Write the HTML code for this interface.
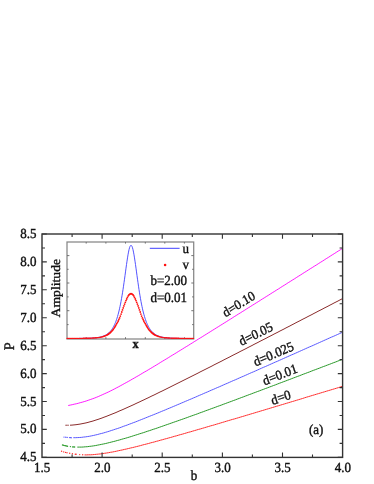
<!DOCTYPE html>
<html><head><meta charset="utf-8"><title>figure</title>
<style>html,body{margin:0;padding:0;background:#fff}body{width:374px;height:484px;overflow:hidden}svg{display:block;will-change:transform}text{stroke:#111;stroke-width:0.36px;text-rendering:geometricPrecision}</style>
</head><body>
<svg width="374" height="484" viewBox="0 0 374 484">
<rect width="374" height="484" fill="#fff"/>
<g font-family="'Liberation Serif', serif" font-size="13.0" fill="#111">
<path d="M68.2 405.5 L70.2 405.1 L72.2 404.7 L74.2 404.2 L76.2 403.8 L78.2 403.3 L80.2 402.7 L82.2 402.2 L84.2 401.6 L86.2 401.0 L88.2 400.3 L90.2 399.6 L92.2 398.9 L94.2 398.2 L96.2 397.4 L98.2 396.6 L100.2 395.7 L102.2 394.8 L104.2 393.9 L106.2 393.0 L108.2 392.1 L110.2 391.1 L112.2 390.1 L114.2 389.1 L116.2 388.0 L118.2 387.0 L120.2 385.9 L122.2 384.8 L124.2 383.7 L126.2 382.6 L128.2 381.5 L130.2 380.4 L132.2 379.2 L134.2 378.1 L136.2 376.9 L138.2 375.8 L140.2 374.6 L142.2 373.4 L144.2 372.2 L146.2 371.1 L148.2 369.9 L150.2 368.7 L152.2 367.5 L154.2 366.3 L156.2 365.1 L158.2 363.9 L160.2 362.6 L162.2 361.4 L164.2 360.2 L166.2 359.0 L168.2 357.8 L170.2 356.5 L172.2 355.3 L174.2 354.1 L176.2 352.9 L178.2 351.6 L180.2 350.4 L182.2 349.2 L184.2 347.9 L186.2 346.7 L188.2 345.5 L190.2 344.2 L192.2 343.0 L194.2 341.7 L196.2 340.5 L198.2 339.2 L200.2 338.0 L202.2 336.8 L204.2 335.5 L206.2 334.3 L208.2 333.0 L210.2 331.8 L212.2 330.5 L214.2 329.3 L216.2 328.0 L218.2 326.8 L220.2 325.5 L222.2 324.3 L224.2 323.0 L226.2 321.8 L228.2 320.5 L230.2 319.3 L232.2 318.0 L234.2 316.7 L236.2 315.5 L238.2 314.2 L240.2 313.0 L242.2 311.7 L244.2 310.5 L246.2 309.2 L248.2 307.9 L250.2 306.7 L252.2 305.4 L254.2 304.2 L256.2 302.9 L258.2 301.7 L260.2 300.4 L262.2 299.1 L264.2 297.9 L266.2 296.6 L268.2 295.4 L270.2 294.1 L272.2 292.8 L274.2 291.6 L276.2 290.3 L278.2 289.1 L280.2 287.8 L282.2 286.5 L284.2 285.3 L286.2 284.0 L288.2 282.7 L290.2 281.5 L292.2 280.2 L294.2 279.0 L296.2 277.7 L298.2 276.4 L300.2 275.2 L302.2 273.9 L304.2 272.6 L306.2 271.4 L308.2 270.1 L310.2 268.8 L312.2 267.6 L314.2 266.3 L316.2 265.1 L318.2 263.8 L320.2 262.5 L322.2 261.3 L324.2 260.0 L326.2 258.7 L328.2 257.5 L330.2 256.2 L332.2 254.9 L334.2 253.7 L336.2 252.4 L338.2 251.1 L340.2 249.9 L342.2 248.6 L343.0 248.1" fill="none" stroke="#ff1cff" stroke-width="1"/>
<circle cx="66.1" cy="425.3" r="0.7" fill="#8a2b2b"/>
<circle cx="68.0" cy="425.3" r="0.7" fill="#8a2b2b"/>
<path d="M70.0 425.2 L72.0 425.1 L74.0 424.9 L76.0 424.7 L78.0 424.4 L80.0 424.1 L82.0 423.7 L84.0 423.3 L86.0 422.9 L88.0 422.4 L90.0 421.8 L92.0 421.3 L94.0 420.7 L96.0 420.0 L98.0 419.4 L100.0 418.7 L102.0 418.0 L104.0 417.2 L106.0 416.5 L108.0 415.7 L110.0 414.9 L112.0 414.1 L114.0 413.3 L116.0 412.5 L118.0 411.6 L120.0 410.7 L122.0 409.9 L124.0 409.0 L126.0 408.1 L128.0 407.2 L130.0 406.3 L132.0 405.4 L134.0 404.5 L136.0 403.5 L138.0 402.6 L140.0 401.7 L142.0 400.7 L144.0 399.8 L146.0 398.8 L148.0 397.9 L150.0 396.9 L152.0 395.9 L154.0 395.0 L156.0 394.0 L158.0 393.0 L160.0 392.0 L162.0 391.1 L164.0 390.1 L166.0 389.1 L168.0 388.1 L170.0 387.1 L172.0 386.1 L174.0 385.1 L176.0 384.1 L178.0 383.1 L180.0 382.1 L182.0 381.1 L184.0 380.1 L186.0 379.1 L188.0 378.1 L190.0 377.1 L192.0 376.1 L194.0 375.1 L196.0 374.1 L198.0 373.1 L200.0 372.0 L202.0 371.0 L204.0 370.0 L206.0 369.0 L208.0 368.0 L210.0 367.0 L212.0 366.0 L214.0 364.9 L216.0 363.9 L218.0 362.9 L220.0 361.9 L222.0 360.9 L224.0 359.8 L226.0 358.8 L228.0 357.8 L230.0 356.8 L232.0 355.7 L234.0 354.7 L236.0 353.7 L238.0 352.7 L240.0 351.6 L242.0 350.6 L244.0 349.6 L246.0 348.6 L248.0 347.5 L250.0 346.5 L252.0 345.5 L254.0 344.4 L256.0 343.4 L258.0 342.4 L260.0 341.3 L262.0 340.3 L264.0 339.3 L266.0 338.3 L268.0 337.2 L270.0 336.2 L272.0 335.2 L274.0 334.1 L276.0 333.1 L278.0 332.1 L280.0 331.0 L282.0 330.0 L284.0 329.0 L286.0 327.9 L288.0 326.9 L290.0 325.9 L292.0 324.8 L294.0 323.8 L296.0 322.7 L298.0 321.7 L300.0 320.7 L302.0 319.6 L304.0 318.6 L306.0 317.6 L308.0 316.5 L310.0 315.5 L312.0 314.5 L314.0 313.4 L316.0 312.4 L318.0 311.3 L320.0 310.3 L322.0 309.3 L324.0 308.2 L326.0 307.2 L328.0 306.2 L330.0 305.1 L332.0 304.1 L334.0 303.0 L336.0 302.0 L338.0 301.0 L340.0 299.9 L342.0 298.9 L343.0 298.4" fill="none" stroke="#8a2b2b" stroke-width="1"/>
<circle cx="64.0" cy="437.1" r="0.7" fill="#5a5aff"/>
<circle cx="65.8" cy="437.3" r="0.7" fill="#5a5aff"/>
<circle cx="67.2" cy="437.4" r="0.7" fill="#5a5aff"/>
<circle cx="69.6" cy="437.6" r="0.7" fill="#5a5aff"/>
<circle cx="70.4" cy="437.6" r="0.7" fill="#5a5aff"/>
<circle cx="71.2" cy="437.7" r="0.7" fill="#5a5aff"/>
<path d="M73.3 437.7 L75.3 437.7 L77.3 437.6 L79.3 437.5 L81.3 437.4 L83.3 437.1 L85.3 436.9 L87.3 436.6 L89.3 436.3 L91.3 435.9 L93.3 435.5 L95.3 435.0 L97.3 434.6 L99.3 434.0 L101.3 433.5 L103.3 433.0 L105.3 432.4 L107.3 431.8 L109.3 431.2 L111.3 430.5 L113.3 429.9 L115.3 429.2 L117.3 428.6 L119.3 427.9 L121.3 427.2 L123.3 426.4 L125.3 425.7 L127.3 425.0 L129.3 424.2 L131.3 423.5 L133.3 422.7 L135.3 422.0 L137.3 421.2 L139.3 420.4 L141.3 419.6 L143.3 418.8 L145.3 418.0 L147.3 417.2 L149.3 416.4 L151.3 415.6 L153.3 414.8 L155.3 414.0 L157.3 413.2 L159.3 412.4 L161.3 411.5 L163.3 410.7 L165.3 409.9 L167.3 409.0 L169.3 408.2 L171.3 407.4 L173.3 406.5 L175.3 405.7 L177.3 404.8 L179.3 404.0 L181.3 403.1 L183.3 402.3 L185.3 401.4 L187.3 400.6 L189.3 399.7 L191.3 398.9 L193.3 398.0 L195.3 397.2 L197.3 396.3 L199.3 395.4 L201.3 394.6 L203.3 393.7 L205.3 392.8 L207.3 392.0 L209.3 391.1 L211.3 390.2 L213.3 389.4 L215.3 388.5 L217.3 387.6 L219.3 386.8 L221.3 385.9 L223.3 385.0 L225.3 384.1 L227.3 383.3 L229.3 382.4 L231.3 381.5 L233.3 380.6 L235.3 379.8 L237.3 378.9 L239.3 378.0 L241.3 377.1 L243.3 376.3 L245.3 375.4 L247.3 374.5 L249.3 373.6 L251.3 372.7 L253.3 371.9 L255.3 371.0 L257.3 370.1 L259.3 369.2 L261.3 368.3 L263.3 367.4 L265.3 366.6 L267.3 365.7 L269.3 364.8 L271.3 363.9 L273.3 363.0 L275.3 362.1 L277.3 361.3 L279.3 360.4 L281.3 359.5 L283.3 358.6 L285.3 357.7 L287.3 356.8 L289.3 355.9 L291.3 355.0 L293.3 354.2 L295.3 353.3 L297.3 352.4 L299.3 351.5 L301.3 350.6 L303.3 349.7 L305.3 348.8 L307.3 347.9 L309.3 347.0 L311.3 346.2 L313.3 345.3 L315.3 344.4 L317.3 343.5 L319.3 342.6 L321.3 341.7 L323.3 340.8 L325.3 339.9 L327.3 339.0 L329.3 338.1 L331.3 337.2 L333.3 336.4 L335.3 335.5 L337.3 334.6 L339.3 333.7 L341.3 332.8 L343.0 332.0" fill="none" stroke="#5a5aff" stroke-width="1"/>
<circle cx="62.5" cy="445.0" r="0.7" fill="#2a9a2a"/>
<circle cx="63.5" cy="445.3" r="0.7" fill="#2a9a2a"/>
<circle cx="64.5" cy="445.6" r="0.7" fill="#2a9a2a"/>
<circle cx="65.5" cy="445.8" r="0.7" fill="#2a9a2a"/>
<circle cx="66.5" cy="446.0" r="0.7" fill="#2a9a2a"/>
<circle cx="67.5" cy="446.2" r="0.7" fill="#2a9a2a"/>
<circle cx="70.4" cy="446.6" r="0.7" fill="#2a9a2a"/>
<circle cx="72.6" cy="446.9" r="0.7" fill="#2a9a2a"/>
<circle cx="73.6" cy="446.9" r="0.7" fill="#2a9a2a"/>
<circle cx="74.6" cy="447.0" r="0.7" fill="#2a9a2a"/>
<path d="M77.3 447.1 L79.3 447.1 L81.3 447.1 L83.3 447.0 L85.3 446.8 L87.3 446.7 L89.3 446.4 L91.3 446.2 L93.3 445.9 L95.3 445.6 L97.3 445.2 L99.3 444.8 L101.3 444.4 L103.3 444.0 L105.3 443.6 L107.3 443.1 L109.3 442.6 L111.3 442.1 L113.3 441.6 L115.3 441.1 L117.3 440.5 L119.3 440.0 L121.3 439.4 L123.3 438.8 L125.3 438.3 L127.3 437.7 L129.3 437.1 L131.3 436.5 L133.3 435.8 L135.3 435.2 L137.3 434.6 L139.3 433.9 L141.3 433.3 L143.3 432.7 L145.3 432.0 L147.3 431.3 L149.3 430.7 L151.3 430.0 L153.3 429.3 L155.3 428.7 L157.3 428.0 L159.3 427.3 L161.3 426.6 L163.3 425.9 L165.3 425.2 L167.3 424.5 L169.3 423.8 L171.3 423.1 L173.3 422.4 L175.3 421.7 L177.3 421.0 L179.3 420.3 L181.3 419.6 L183.3 418.9 L185.3 418.2 L187.3 417.5 L189.3 416.7 L191.3 416.0 L193.3 415.3 L195.3 414.6 L197.3 413.9 L199.3 413.1 L201.3 412.4 L203.3 411.7 L205.3 410.9 L207.3 410.2 L209.3 409.5 L211.3 408.7 L213.3 408.0 L215.3 407.3 L217.3 406.5 L219.3 405.8 L221.3 405.1 L223.3 404.3 L225.3 403.6 L227.3 402.8 L229.3 402.1 L231.3 401.4 L233.3 400.6 L235.3 399.9 L237.3 399.1 L239.3 398.4 L241.3 397.6 L243.3 396.9 L245.3 396.1 L247.3 395.4 L249.3 394.6 L251.3 393.9 L253.3 393.1 L255.3 392.4 L257.3 391.6 L259.3 390.9 L261.3 390.1 L263.3 389.4 L265.3 388.6 L267.3 387.9 L269.3 387.1 L271.3 386.4 L273.3 385.6 L275.3 384.9 L277.3 384.1 L279.3 383.3 L281.3 382.6 L283.3 381.8 L285.3 381.1 L287.3 380.3 L289.3 379.6 L291.3 378.8 L293.3 378.0 L295.3 377.3 L297.3 376.5 L299.3 375.8 L301.3 375.0 L303.3 374.2 L305.3 373.5 L307.3 372.7 L309.3 372.0 L311.3 371.2 L313.3 370.4 L315.3 369.7 L317.3 368.9 L319.3 368.2 L321.3 367.4 L323.3 366.6 L325.3 365.9 L327.3 365.1 L329.3 364.4 L331.3 363.6 L333.3 362.8 L335.3 362.1 L337.3 361.3 L339.3 360.5 L341.3 359.8 L343.0 359.1" fill="none" stroke="#2a9a2a" stroke-width="1"/>
<circle cx="61.6" cy="451.3" r="0.7" fill="#ff3030"/>
<circle cx="63.7" cy="451.9" r="0.7" fill="#ff3030"/>
<circle cx="65.6" cy="452.4" r="0.7" fill="#ff3030"/>
<circle cx="67.0" cy="452.7" r="0.7" fill="#ff3030"/>
<circle cx="69.7" cy="453.3" r="0.7" fill="#ff3030"/>
<circle cx="72.4" cy="453.8" r="0.7" fill="#ff3030"/>
<circle cx="75.3" cy="454.2" r="0.7" fill="#ff3030"/>
<circle cx="76.1" cy="454.3" r="0.7" fill="#ff3030"/>
<circle cx="79.7" cy="454.6" r="0.7" fill="#ff3030"/>
<circle cx="82.7" cy="454.8" r="0.7" fill="#ff3030"/>
<path d="M84.5 454.9 L86.5 454.9 L88.5 454.8 L90.5 454.8 L92.5 454.7 L94.5 454.5 L96.5 454.3 L98.5 454.1 L100.5 453.9 L102.5 453.6 L104.5 453.3 L106.5 453.0 L108.5 452.7 L110.5 452.3 L112.5 452.0 L114.5 451.6 L116.5 451.2 L118.5 450.7 L120.5 450.3 L122.5 449.9 L124.5 449.4 L126.5 449.0 L128.5 448.5 L130.5 448.0 L132.5 447.6 L134.5 447.1 L136.5 446.6 L138.5 446.1 L140.5 445.6 L142.5 445.0 L144.5 444.5 L146.5 444.0 L148.5 443.5 L150.5 442.9 L152.5 442.4 L154.5 441.9 L156.5 441.3 L158.5 440.8 L160.5 440.2 L162.5 439.7 L164.5 439.1 L166.5 438.6 L168.5 438.0 L170.5 437.5 L172.5 436.9 L174.5 436.3 L176.5 435.8 L178.5 435.2 L180.5 434.6 L182.5 434.1 L184.5 433.5 L186.5 432.9 L188.5 432.3 L190.5 431.8 L192.5 431.2 L194.5 430.6 L196.5 430.0 L198.5 429.4 L200.5 428.9 L202.5 428.3 L204.5 427.7 L206.5 427.1 L208.5 426.5 L210.5 425.9 L212.5 425.4 L214.5 424.8 L216.5 424.2 L218.5 423.6 L220.5 423.0 L222.5 422.4 L224.5 421.8 L226.5 421.2 L228.5 420.6 L230.5 420.0 L232.5 419.4 L234.5 418.9 L236.5 418.3 L238.5 417.7 L240.5 417.1 L242.5 416.5 L244.5 415.9 L246.5 415.3 L248.5 414.7 L250.5 414.1 L252.5 413.5 L254.5 412.9 L256.5 412.3 L258.5 411.7 L260.5 411.1 L262.5 410.5 L264.5 409.9 L266.5 409.3 L268.5 408.7 L270.5 408.1 L272.5 407.5 L274.5 406.9 L276.5 406.3 L278.5 405.7 L280.5 405.1 L282.5 404.5 L284.5 403.9 L286.5 403.3 L288.5 402.7 L290.5 402.1 L292.5 401.5 L294.5 400.9 L296.5 400.3 L298.5 399.7 L300.5 399.1 L302.5 398.5 L304.5 397.8 L306.5 397.2 L308.5 396.6 L310.5 396.0 L312.5 395.4 L314.5 394.8 L316.5 394.2 L318.5 393.6 L320.5 393.0 L322.5 392.4 L324.5 391.8 L326.5 391.2 L328.5 390.6 L330.5 390.0 L332.5 389.4 L334.5 388.8 L336.5 388.2 L338.5 387.6 L340.5 386.9 L342.5 386.3 L343.0 386.2" fill="none" stroke="#ff3030" stroke-width="1"/>
<rect x="67.0" y="242.0" width="126.7" height="97.0" fill="#fff" stroke="#868686" stroke-width="1.25"/>
<path d="M86.2 242.0 v1.6 M86.2 339.0 v-1.8 M105.9 242.0 v1.6 M105.9 339.0 v-1.8 M125.5 242.0 v1.6 M125.5 339.0 v-1.8 M145.3 242.0 v1.6 M145.3 339.0 v-1.8 M164.8 242.0 v1.6 M164.8 339.0 v-1.8 M184.4 242.0 v1.6 M184.4 339.0 v-1.8 M67.0 255.6 h2.4 M193.7 255.6 h-2.4 M67.0 269.3 h1.6 M193.7 269.3 h-1.6 M67.0 283.0 h2.4 M193.7 283.0 h-2.4 M67.0 296.9 h1.6 M193.7 296.9 h-1.6 M67.0 310.7 h2.4 M193.7 310.7 h-2.4 M67.0 324.6 h1.6 M193.7 324.6 h-1.6" stroke="#666" stroke-width="0.9" fill="none"/>
<path d="M67.0 338.5 L67.5 338.5 L68.0 338.5 L68.5 338.5 L69.0 338.5 L69.5 338.5 L70.0 338.5 L70.5 338.5 L71.0 338.5 L71.5 338.5 L72.0 338.5 L72.5 338.5 L73.0 338.5 L73.5 338.5 L74.0 338.5 L74.5 338.5 L75.0 338.5 L75.5 338.5 L76.0 338.5 L76.5 338.5 L77.0 338.5 L77.5 338.5 L78.0 338.5 L78.5 338.5 L79.0 338.4 L79.5 338.4 L80.0 338.4 L80.5 338.4 L81.0 338.4 L81.5 338.4 L82.0 338.4 L82.5 338.4 L83.0 338.4 L83.5 338.4 L84.0 338.4 L84.5 338.4 L85.0 338.4 L85.5 338.4 L86.0 338.3 L86.5 338.3 L87.0 338.3 L87.5 338.3 L88.0 338.3 L88.5 338.3 L89.0 338.2 L89.5 338.2 L90.0 338.2 L90.5 338.2 L91.0 338.2 L91.5 338.1 L92.0 338.1 L92.5 338.1 L93.0 338.0 L93.5 338.0 L94.0 338.0 L94.5 337.9 L95.0 337.9 L95.5 337.8 L96.0 337.7 L96.5 337.7 L97.0 337.6 L97.5 337.5 L98.0 337.5 L98.5 337.4 L99.0 337.3 L99.5 337.2 L100.0 337.1 L100.5 337.0 L101.0 336.8 L101.5 336.7 L102.0 336.6 L102.5 336.4 L103.0 336.2 L103.5 336.0 L104.0 335.8 L104.5 335.6 L105.0 335.4 L105.5 335.1 L106.0 334.9 L106.5 334.6 L107.0 334.2 L107.5 333.9 L108.0 333.5 L108.5 333.1 L109.0 332.7 L109.5 332.2 L110.0 331.7 L110.5 331.1 L111.0 330.5 L111.5 329.9 L112.0 329.2 L112.5 328.4 L113.0 327.6 L113.5 326.7 L114.0 325.7 L114.5 324.7 L115.0 323.6 L115.5 322.4 L116.0 321.1 L116.5 319.7 L117.0 318.2 L117.5 316.6 L118.0 314.8 L118.5 313.0 L119.0 311.0 L119.5 308.8 L120.0 306.5 L120.5 304.1 L121.0 301.5 L121.5 298.7 L122.0 295.8 L122.5 292.8 L123.0 289.6 L123.5 286.2 L124.0 282.7 L124.5 279.2 L125.0 275.6 L125.5 271.9 L126.0 268.2 L126.5 264.6 L127.0 261.2 L127.5 257.9 L128.0 254.8 L128.5 252.1 L129.0 249.7 L129.5 247.8 L130.0 246.4 L130.5 245.6 L131.0 245.3 L131.5 245.6 L132.0 246.4 L132.5 247.8 L133.0 249.7 L133.5 252.1 L134.0 254.8 L134.5 257.9 L135.0 261.2 L135.5 264.6 L136.0 268.2 L136.5 271.9 L137.0 275.6 L137.5 279.2 L138.0 282.7 L138.5 286.2 L139.0 289.6 L139.5 292.8 L140.0 295.8 L140.5 298.7 L141.0 301.5 L141.5 304.1 L142.0 306.5 L142.5 308.8 L143.0 311.0 L143.5 313.0 L144.0 314.8 L144.5 316.6 L145.0 318.2 L145.5 319.7 L146.0 321.1 L146.5 322.4 L147.0 323.6 L147.5 324.7 L148.0 325.7 L148.5 326.7 L149.0 327.6 L149.5 328.4 L150.0 329.2 L150.5 329.9 L151.0 330.5 L151.5 331.1 L152.0 331.7 L152.5 332.2 L153.0 332.7 L153.5 333.1 L154.0 333.5 L154.5 333.9 L155.0 334.2 L155.5 334.6 L156.0 334.9 L156.5 335.1 L157.0 335.4 L157.5 335.6 L158.0 335.8 L158.5 336.0 L159.0 336.2 L159.5 336.4 L160.0 336.6 L160.5 336.7 L161.0 336.8 L161.5 337.0 L162.0 337.1 L162.5 337.2 L163.0 337.3 L163.5 337.4 L164.0 337.5 L164.5 337.5 L165.0 337.6 L165.5 337.7 L166.0 337.7 L166.5 337.8 L167.0 337.9 L167.5 337.9 L168.0 338.0 L168.5 338.0 L169.0 338.0 L169.5 338.1 L170.0 338.1 L170.5 338.1 L171.0 338.2 L171.5 338.2 L172.0 338.2 L172.5 338.2 L173.0 338.2 L173.5 338.3 L174.0 338.3 L174.5 338.3 L175.0 338.3 L175.5 338.3 L176.0 338.3 L176.5 338.4 L177.0 338.4 L177.5 338.4 L178.0 338.4 L178.5 338.4 L179.0 338.4 L179.5 338.4 L180.0 338.4 L180.5 338.4 L181.0 338.4 L181.5 338.4 L182.0 338.4 L182.5 338.4 L183.0 338.4 L183.5 338.5 L184.0 338.5 L184.5 338.5 L185.0 338.5 L185.5 338.5 L186.0 338.5 L186.5 338.5 L187.0 338.5 L187.5 338.5 L188.0 338.5 L188.5 338.5 L189.0 338.5 L189.5 338.5 L190.0 338.5 L190.5 338.5 L191.0 338.5 L191.5 338.5 L192.0 338.5 L192.5 338.5 L193.0 338.5 L193.5 338.5" fill="none" stroke="#4a4aff" stroke-width="0.95"/>
<g fill="#ff1010"><circle cx="67.1" cy="338.4" r="0.68"/><circle cx="67.8" cy="338.4" r="0.68"/><circle cx="68.5" cy="338.4" r="0.68"/><circle cx="69.2" cy="338.4" r="0.68"/><circle cx="69.9" cy="338.4" r="0.68"/><circle cx="70.6" cy="338.4" r="0.68"/><circle cx="71.4" cy="338.4" r="0.68"/><circle cx="72.1" cy="338.4" r="0.68"/><circle cx="72.8" cy="338.4" r="0.68"/><circle cx="73.5" cy="338.4" r="0.68"/><circle cx="74.2" cy="338.4" r="0.68"/><circle cx="74.9" cy="338.4" r="0.68"/><circle cx="75.6" cy="338.4" r="0.68"/><circle cx="76.3" cy="338.4" r="0.68"/><circle cx="77.0" cy="338.4" r="0.68"/><circle cx="77.7" cy="338.4" r="0.68"/><circle cx="78.5" cy="338.4" r="0.68"/><circle cx="79.2" cy="338.4" r="0.68"/><circle cx="79.9" cy="338.4" r="0.68"/><circle cx="80.6" cy="338.4" r="0.68"/><circle cx="81.3" cy="338.4" r="0.68"/><circle cx="82.0" cy="338.4" r="0.68"/><circle cx="82.7" cy="338.4" r="0.68"/><circle cx="83.4" cy="338.3" r="0.68"/><circle cx="84.1" cy="338.3" r="0.68"/><circle cx="84.8" cy="338.3" r="0.68"/><circle cx="85.6" cy="338.3" r="0.68"/><circle cx="86.3" cy="338.3" r="0.68"/><circle cx="87.0" cy="338.3" r="0.68"/><circle cx="87.7" cy="338.3" r="0.68"/><circle cx="88.4" cy="338.3" r="0.68"/><circle cx="89.1" cy="338.2" r="0.68"/><circle cx="89.8" cy="338.2" r="0.68"/><circle cx="90.5" cy="338.2" r="0.68"/><circle cx="91.2" cy="338.1" r="0.68"/><circle cx="91.9" cy="338.1" r="0.68"/><circle cx="92.7" cy="338.0" r="0.68"/><circle cx="93.4" cy="338.0" r="0.68"/><circle cx="94.1" cy="337.9" r="0.68"/><circle cx="94.8" cy="337.9" r="0.68"/><circle cx="95.5" cy="337.8" r="0.68"/><circle cx="96.2" cy="337.8" r="0.68"/><circle cx="96.9" cy="337.7" r="0.68"/><circle cx="97.6" cy="337.6" r="0.68"/><circle cx="98.3" cy="337.6" r="0.68"/><circle cx="99.0" cy="337.5" r="0.68"/><circle cx="99.8" cy="337.4" r="0.70"/><circle cx="100.5" cy="337.2" r="0.71"/><circle cx="101.2" cy="337.1" r="0.72"/><circle cx="101.9" cy="337.0" r="0.74"/><circle cx="102.6" cy="336.8" r="0.75"/><circle cx="103.3" cy="336.6" r="0.77"/><circle cx="104.0" cy="336.4" r="0.78"/><circle cx="104.7" cy="336.1" r="0.79"/><circle cx="105.4" cy="335.8" r="0.81"/><circle cx="106.1" cy="335.5" r="0.82"/><circle cx="106.9" cy="335.1" r="0.84"/><circle cx="107.6" cy="334.7" r="0.85"/><circle cx="108.3" cy="334.2" r="0.87"/><circle cx="109.0" cy="333.7" r="0.88"/><circle cx="109.7" cy="333.1" r="0.88"/><circle cx="110.4" cy="332.5" r="0.88"/><circle cx="111.1" cy="331.8" r="0.88"/><circle cx="111.8" cy="331.1" r="0.88"/><circle cx="112.5" cy="330.3" r="0.88"/><circle cx="113.2" cy="329.4" r="0.88"/><circle cx="114.0" cy="328.3" r="0.88"/><circle cx="114.7" cy="327.2" r="0.88"/><circle cx="115.4" cy="326.0" r="0.88"/><circle cx="116.1" cy="324.8" r="0.88"/><circle cx="116.8" cy="323.6" r="0.88"/><circle cx="117.5" cy="322.3" r="0.88"/><circle cx="118.2" cy="321.0" r="0.88"/><circle cx="118.9" cy="319.5" r="0.88"/><circle cx="119.6" cy="317.9" r="0.88"/><circle cx="120.3" cy="316.1" r="0.88"/><circle cx="121.1" cy="314.1" r="0.88"/><circle cx="121.8" cy="312.0" r="0.88"/><circle cx="122.5" cy="309.9" r="0.88"/><circle cx="123.2" cy="307.9" r="0.88"/><circle cx="123.9" cy="305.9" r="0.88"/><circle cx="124.6" cy="304.1" r="0.88"/><circle cx="125.3" cy="302.3" r="0.88"/><circle cx="126.0" cy="300.6" r="0.88"/><circle cx="126.7" cy="299.0" r="0.88"/><circle cx="127.4" cy="297.4" r="0.88"/><circle cx="128.2" cy="295.9" r="0.88"/><circle cx="128.9" cy="294.9" r="0.88"/><circle cx="129.6" cy="294.3" r="0.88"/><circle cx="130.3" cy="293.8" r="0.88"/><circle cx="131.0" cy="293.6" r="0.88"/><circle cx="131.7" cy="293.8" r="0.88"/><circle cx="132.4" cy="294.3" r="0.88"/><circle cx="133.1" cy="294.9" r="0.88"/><circle cx="133.8" cy="295.9" r="0.88"/><circle cx="134.5" cy="297.4" r="0.88"/><circle cx="135.3" cy="299.0" r="0.88"/><circle cx="136.0" cy="300.6" r="0.88"/><circle cx="136.7" cy="302.3" r="0.88"/><circle cx="137.4" cy="304.1" r="0.88"/><circle cx="138.1" cy="305.9" r="0.88"/><circle cx="138.8" cy="307.9" r="0.88"/><circle cx="139.5" cy="309.9" r="0.88"/><circle cx="140.2" cy="312.0" r="0.88"/><circle cx="140.9" cy="314.1" r="0.88"/><circle cx="141.6" cy="316.1" r="0.88"/><circle cx="142.4" cy="317.9" r="0.88"/><circle cx="143.1" cy="319.5" r="0.88"/><circle cx="143.8" cy="321.0" r="0.88"/><circle cx="144.5" cy="322.3" r="0.88"/><circle cx="145.2" cy="323.6" r="0.88"/><circle cx="145.9" cy="324.8" r="0.88"/><circle cx="146.6" cy="326.0" r="0.88"/><circle cx="147.3" cy="327.2" r="0.88"/><circle cx="148.0" cy="328.3" r="0.88"/><circle cx="148.7" cy="329.4" r="0.88"/><circle cx="149.5" cy="330.3" r="0.88"/><circle cx="150.2" cy="331.1" r="0.88"/><circle cx="150.9" cy="331.8" r="0.88"/><circle cx="151.6" cy="332.5" r="0.88"/><circle cx="152.3" cy="333.1" r="0.88"/><circle cx="153.0" cy="333.7" r="0.88"/><circle cx="153.7" cy="334.2" r="0.87"/><circle cx="154.4" cy="334.7" r="0.85"/><circle cx="155.1" cy="335.1" r="0.84"/><circle cx="155.8" cy="335.5" r="0.82"/><circle cx="156.6" cy="335.8" r="0.81"/><circle cx="157.3" cy="336.1" r="0.79"/><circle cx="158.0" cy="336.4" r="0.78"/><circle cx="158.7" cy="336.6" r="0.77"/><circle cx="159.4" cy="336.8" r="0.75"/><circle cx="160.1" cy="337.0" r="0.74"/><circle cx="160.8" cy="337.1" r="0.72"/><circle cx="161.5" cy="337.2" r="0.71"/><circle cx="162.2" cy="337.4" r="0.70"/><circle cx="162.9" cy="337.5" r="0.68"/><circle cx="163.7" cy="337.6" r="0.68"/><circle cx="164.4" cy="337.6" r="0.68"/><circle cx="165.1" cy="337.7" r="0.68"/><circle cx="165.8" cy="337.8" r="0.68"/><circle cx="166.5" cy="337.8" r="0.68"/><circle cx="167.2" cy="337.9" r="0.68"/><circle cx="167.9" cy="337.9" r="0.68"/><circle cx="168.6" cy="338.0" r="0.68"/><circle cx="169.3" cy="338.0" r="0.68"/><circle cx="170.0" cy="338.1" r="0.68"/><circle cx="170.8" cy="338.1" r="0.68"/><circle cx="171.5" cy="338.2" r="0.68"/><circle cx="172.2" cy="338.2" r="0.68"/><circle cx="172.9" cy="338.2" r="0.68"/><circle cx="173.6" cy="338.3" r="0.68"/><circle cx="174.3" cy="338.3" r="0.68"/><circle cx="175.0" cy="338.3" r="0.68"/><circle cx="175.7" cy="338.3" r="0.68"/><circle cx="176.4" cy="338.3" r="0.68"/><circle cx="177.1" cy="338.3" r="0.68"/><circle cx="177.9" cy="338.3" r="0.68"/><circle cx="178.6" cy="338.3" r="0.68"/><circle cx="179.3" cy="338.4" r="0.68"/><circle cx="180.0" cy="338.4" r="0.68"/><circle cx="180.7" cy="338.4" r="0.68"/><circle cx="181.4" cy="338.4" r="0.68"/><circle cx="182.1" cy="338.4" r="0.68"/><circle cx="182.8" cy="338.4" r="0.68"/><circle cx="183.5" cy="338.4" r="0.68"/><circle cx="184.2" cy="338.4" r="0.68"/><circle cx="185.0" cy="338.4" r="0.68"/><circle cx="185.7" cy="338.4" r="0.68"/><circle cx="186.4" cy="338.4" r="0.68"/><circle cx="187.1" cy="338.4" r="0.68"/><circle cx="187.8" cy="338.4" r="0.68"/><circle cx="188.5" cy="338.4" r="0.68"/><circle cx="189.2" cy="338.4" r="0.68"/><circle cx="189.9" cy="338.4" r="0.68"/><circle cx="190.6" cy="338.4" r="0.68"/><circle cx="191.3" cy="338.4" r="0.68"/><circle cx="192.1" cy="338.4" r="0.68"/><circle cx="192.8" cy="338.4" r="0.68"/><circle cx="193.5" cy="338.4" r="0.68"/></g>
<path d="M149.8 248.3 H179.6" stroke="#4040ff" stroke-width="1"/>
<circle cx="165.1" cy="264.95" r="1.3" fill="#ff1010"/>
<text transform="translate(182.60,253.30) scale(1,1.070)" text-anchor="start" font-size="13.00">u</text>
<text transform="translate(182.60,269.30) scale(1,1.070)" text-anchor="start" font-size="13.00">v</text>
<text transform="translate(150.50,284.90) scale(1,1.070)" text-anchor="start" font-size="13.00">b=2.00</text>
<text transform="translate(150.50,302.40) scale(1,1.070)" text-anchor="start" font-size="13.00">d=0.01</text>
<text transform="translate(135.70,347.70) scale(1,1.070)" text-anchor="middle" font-size="12.40" font-weight="bold">x</text>
<text transform="translate(59.90,288.20) scale(1,1.070) rotate(-90.00)" text-anchor="middle" font-size="12.80">Amplitude</text>
<rect x="42.0" y="234.0" width="300.6" height="223.4" fill="none" stroke="#333" stroke-width="1.4"/>
<path d="M72.1 457.4 v-3.0 M72.1 234.0 v3.0 M102.1 457.4 v-4.8 M102.1 234.0 v4.8 M132.2 457.4 v-3.0 M132.2 234.0 v3.0 M162.2 457.4 v-4.8 M162.2 234.0 v4.8 M192.3 457.4 v-3.0 M192.3 234.0 v3.0 M222.4 457.4 v-4.8 M222.4 234.0 v4.8 M252.4 457.4 v-3.0 M252.4 234.0 v3.0 M282.5 457.4 v-4.8 M282.5 234.0 v4.8 M312.5 457.4 v-3.0 M312.5 234.0 v3.0 M42.0 457.4 h4.8 M342.6 457.4 h-4.8 M42.0 443.4 h3.0 M342.6 443.4 h-3.0 M42.0 429.4 h4.8 M342.6 429.4 h-4.8 M42.0 415.5 h3.0 M342.6 415.5 h-3.0 M42.0 401.5 h4.8 M342.6 401.5 h-4.8 M42.0 387.6 h3.0 M342.6 387.6 h-3.0 M42.0 373.6 h4.8 M342.6 373.6 h-4.8 M42.0 359.6 h3.0 M342.6 359.6 h-3.0 M42.0 345.7 h4.8 M342.6 345.7 h-4.8 M42.0 331.7 h3.0 M342.6 331.7 h-3.0 M42.0 317.8 h4.8 M342.6 317.8 h-4.8 M42.0 303.8 h3.0 M342.6 303.8 h-3.0 M42.0 289.8 h4.8 M342.6 289.8 h-4.8 M42.0 275.9 h3.0 M342.6 275.9 h-3.0 M42.0 261.9 h4.8 M342.6 261.9 h-4.8 M42.0 248.0 h3.0 M342.6 248.0 h-3.0 M42.0 234.0 h4.8 M342.6 234.0 h-4.8" stroke="#333" stroke-width="1.1" fill="none"/>
<text transform="translate(42.20,472.30) scale(1,1.070)" text-anchor="middle" font-size="13.00">1.5</text>
<text transform="translate(102.32,472.30) scale(1,1.070)" text-anchor="middle" font-size="13.00">2.0</text>
<text transform="translate(162.44,472.30) scale(1,1.070)" text-anchor="middle" font-size="13.00">2.5</text>
<text transform="translate(222.56,472.30) scale(1,1.070)" text-anchor="middle" font-size="13.00">3.0</text>
<text transform="translate(282.68,472.30) scale(1,1.070)" text-anchor="middle" font-size="13.00">3.5</text>
<text transform="translate(342.80,472.30) scale(1,1.070)" text-anchor="middle" font-size="13.00">4.0</text>
<text transform="translate(36.60,461.35) scale(1,1.070)" text-anchor="end" font-size="13.00">4.5</text>
<text transform="translate(36.60,433.43) scale(1,1.070)" text-anchor="end" font-size="13.00">5.0</text>
<text transform="translate(36.60,405.51) scale(1,1.070)" text-anchor="end" font-size="13.00">5.5</text>
<text transform="translate(36.60,377.59) scale(1,1.070)" text-anchor="end" font-size="13.00">6.0</text>
<text transform="translate(36.60,349.68) scale(1,1.070)" text-anchor="end" font-size="13.00">6.5</text>
<text transform="translate(36.60,321.76) scale(1,1.070)" text-anchor="end" font-size="13.00">7.0</text>
<text transform="translate(36.60,293.84) scale(1,1.070)" text-anchor="end" font-size="13.00">7.5</text>
<text transform="translate(36.60,265.92) scale(1,1.070)" text-anchor="end" font-size="13.00">8.0</text>
<text transform="translate(36.60,238.00) scale(1,1.070)" text-anchor="end" font-size="13.00">8.5</text>
<text transform="translate(194.00,480.20) scale(1,1.070)" text-anchor="middle" font-size="13.00">b</text>
<text transform="translate(13.7,346.3) scale(1,0.97) rotate(-90)" text-anchor="middle" font-size="14.6">P</text>
<text transform="translate(308.90,434.00) scale(1,1.070)" text-anchor="start" font-size="13.00">(a)</text>
<text transform="translate(240.80,307.90) scale(1,1.070) rotate(-30.48)" text-anchor="middle" font-size="12.67">d=0.10</text>
<text transform="translate(257.60,338.00) scale(1,1.070) rotate(-24.98)" text-anchor="middle" font-size="12.74">d=0.05</text>
<text transform="translate(275.05,358.15) scale(1,1.070) rotate(-21.64)" text-anchor="middle" font-size="12.77">d=0.025</text>
<text transform="translate(281.30,378.85) scale(1,1.070) rotate(-20.31)" text-anchor="middle" font-size="12.79">d=0.01</text>
<text transform="translate(282.15,401.70) scale(1,1.070) rotate(-17.36)" text-anchor="middle" font-size="12.82">d=0</text>
</g></svg>
</body></html>
